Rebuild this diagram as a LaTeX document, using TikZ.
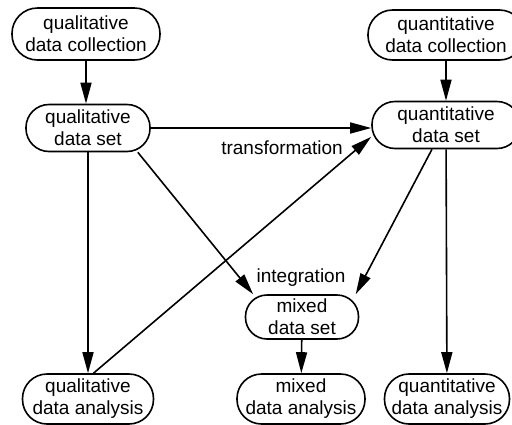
\documentclass[tikz,border=0pt]{standalone}
\usepackage{fontspec}
\setmainfont{Liberation Sans}
\usetikzlibrary{arrows.meta}
\begin{document}
\begin{tikzpicture}[x=1pt,y=-1pt,
  box/.style={rectangle, draw, line width=1.6pt, align=center, inner sep=0pt,
    font=\fontsize{19}{22}\selectfont},
  lbl/.style={inner sep=0pt, font=\fontsize{19}{22}\selectfont},
  arr/.style={line width=1.6pt, -{Triangle[length=21pt,width=11pt]}}]
\useasboundingbox (0,0) rectangle (512,424);
\node[box, minimum width=148pt, minimum height=52pt, rounded corners=25.5pt] (qc) at (86,34) {qualitative\\data collection};
\node[box, minimum width=156pt, minimum height=50pt, rounded corners=24.5pt] (quc) at (446,35) {quantitative\\data collection};
\node[box, minimum width=124pt, minimum height=47pt, rounded corners=23pt] (qds) at (88,128) {qualitative\\data set};
\node[box, minimum width=148pt, minimum height=47pt, rounded corners=23pt] (quds) at (446,125) {quantitative\\data set};
\node[box, minimum width=113pt, minimum height=44pt, rounded corners=21.5pt] (mds) at (302,317) {mixed\\data set};
\node[box, minimum width=131pt, minimum height=50pt, rounded corners=24.5pt] (qa) at (88,399) {qualitative\\data analysis};
\node[box, minimum width=128pt, minimum height=50pt, rounded corners=24.5pt] (ma) at (301,399) {mixed\\data analysis};
\node[box, minimum width=125pt, minimum height=50pt, rounded corners=24.5pt] (qua) at (447,399) {quantitative\\data analysis};
\node[lbl] (tr) at (282,148) {transformation};
\node[lbl] (ig) at (301,278) {integration};
\draw[arr] (qc.south) -- (qc.south |- qds.north);
\draw[arr] (quc) -- (quds);
\draw[arr] (qds.east) -- (qds.east -| quds.west);
\draw[arr] (qds) -- (qa);
\draw[arr] (quds) -- (qua);
\draw[arr] (mds) -- (ma);
\draw[arr] (qds.-26) -- (mds.155.8);
\draw[arr] (quds.240.8) -- (mds.23.3);
\draw[arr] (qa.78) -- (quds.189);
\end{tikzpicture}
\end{document}
